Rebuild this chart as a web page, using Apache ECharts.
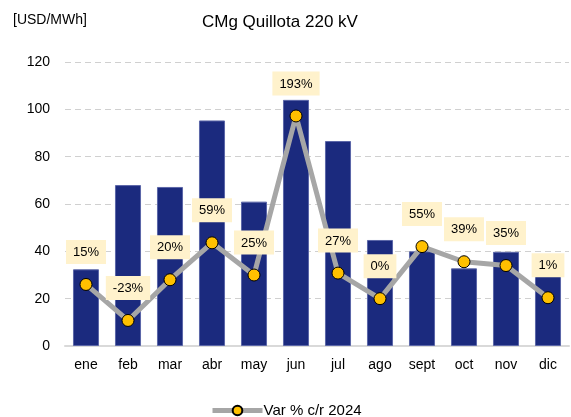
<!DOCTYPE html>
<html>
<head>
<meta charset="utf-8">
<script src="https://cdn.jsdelivr.net/npm/echarts@6/dist/echarts.min.js"></script>
<style>
  html, body { margin: 0; padding: 0; background: #fff; }
  #chart { width: 571px; height: 417px; }
</style>
</head>
<body>
<div id="chart"></div>
<script>
const months = ['ene', 'feb', 'mar', 'abr', 'may', 'jun', 'jul', 'ago', 'sept', 'oct', 'nov', 'dic'];
const cmgValues = [32.4, 68, 67.2, 95.3, 61, 104, 86.6, 44.8, 40, 32.8, 39.8, 37.5];
const varPct = [15, -23, 20, 59, 25, 193, 27, 0, 55, 39, 35, 1];
const yTicks = [0, 20, 40, 60, 80, 100, 120];

const chart = echarts.init(document.getElementById('chart'));
const font = 'Arial, "Liberation Sans", sans-serif';

chart.setOption({
  backgroundColor: '#fff',
  animation: false,
  textStyle: { fontFamily: font },
  title: [{
    text: 'CMg Quillota 220 kV',
    left: 197,
    top: 9,
    textStyle: { fontSize: 17, fontWeight: 'normal', color: '#000', fontFamily: font }
  }, {
    text: '[USD/MWh]',
    left: 8,
    top: 8,
    textStyle: { fontSize: 14, fontWeight: 'normal', color: '#000', fontFamily: font }
  }],
  legend: {
    data: ['Var % c/r 2024'],
    top: 398,
    left: 205,
    itemWidth: 50,
    itemHeight: 12,
    itemGap: 2,
    lineStyle: { width: 5, color: '#a6a6a6' },
    textStyle: { fontSize: 15, color: '#000', fontFamily: font, padding: [0, 0, 0, -4] }
  },
  grid: {
    left: 65,
    right: 2,
    top: 62,
    bottom: 71,
    containLabel: false
  },
  xAxis: {
    type: 'category',
    data: months,
    axisLine: { lineStyle: { color: '#d9d9d9', width: 2 } },
    axisTick: { show: false },
    axisLabel: { color: '#000', fontSize: 14, margin: 12, fontFamily: font }
  },
  yAxis: [{
    type: 'value',
    min: yTicks[0],
    max: yTicks[yTicks.length - 1],
    interval: 20,
    axisLine: { show: false },
    axisTick: { show: false },
    axisLabel: { color: '#000', fontSize: 14, margin: 15, fontFamily: font },
    splitLine: { lineStyle: { color: '#d0d0d0', type: [6, 4], width: 1 } }
  }, {
    type: 'value',
    min: -50,
    max: 250,
    show: false,
    splitLine: { show: false }
  }],
  series: [{
    name: 'CMg',
    type: 'bar',
    data: cmgValues,
    barWidth: '62%',
    itemStyle: { color: '#1b2a7e', borderColor: '#5b66a8', borderWidth: 1 }
  }, {
    name: 'Var % c/r 2024',
    type: 'line',
    yAxisIndex: 1,
    data: varPct,
    symbol: 'circle',
    symbolSize: 12,
    z: 5,
    lineStyle: { color: '#a6a6a6', width: 5 },
    itemStyle: { color: '#ffc000', borderColor: '#000', borderWidth: 1 },
    label: {
      show: true,
      position: 'top',
      distance: 14,
      formatter: p => p.value + '%',
      color: '#000',
      fontSize: 13,
      fontFamily: font,
      backgroundColor: '#fff2cc',
      padding: [6, 7, 5, 7]
    }
  }]
});
</script>
</body>
</html>
